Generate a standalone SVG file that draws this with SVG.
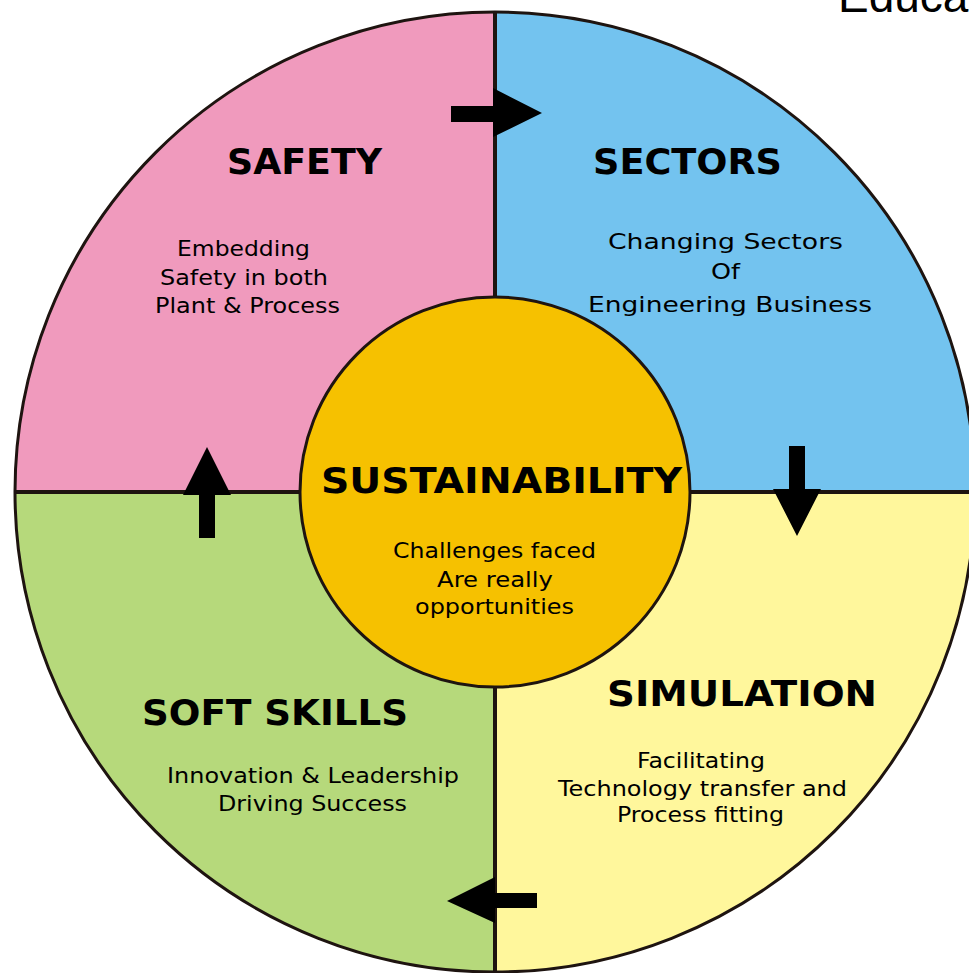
<svg xmlns="http://www.w3.org/2000/svg" width="969" height="973" viewBox="0 0 969 973">
<style>
.q{stroke:none}
.title{font-family:"DejaVu Sans","Verdana",sans-serif;font-weight:bold;font-size:35px;fill:#000;text-anchor:middle}
.body{font-family:"DejaVu Sans","Verdana",sans-serif;font-size:22px;fill:#000;text-anchor:middle}
.arrow{fill:#000}
</style>
<rect width="969" height="973" fill="#fff"/>
<text x="838" y="12" font-family="'Liberation Sans',Arial,sans-serif" font-size="46" fill="#000">Educa</text>
<g id="safety">
<path class="q" fill="#F09ABD" d="M495,492 L15,492 A480,480 0 0 1 495,12 Z"/>
<text class="title" x="304.5" y="174" textLength="155" lengthAdjust="spacingAndGlyphs">SAFETY</text>
<text class="body" x="243.5" y="256" textLength="133" lengthAdjust="spacingAndGlyphs">Embedding</text>
<text class="body" x="244" y="285" textLength="168" lengthAdjust="spacingAndGlyphs">Safety in both</text>
<text class="body" x="247.5" y="313" textLength="185" lengthAdjust="spacingAndGlyphs">Plant &amp; Process</text>
</g>
<g id="sectors">
<path class="q" fill="#73C3EF" d="M495,492 L495,12 A480,480 0 0 1 975,492 Z"/>
<text class="title" x="687.5" y="174" textLength="189" lengthAdjust="spacingAndGlyphs">SECTORS</text>
<text class="body" x="725.5" y="249" textLength="235" lengthAdjust="spacingAndGlyphs">Changing Sectors</text>
<text class="body" x="725.5" y="279" textLength="29" lengthAdjust="spacingAndGlyphs">Of</text>
<text class="body" x="730" y="312" textLength="284" lengthAdjust="spacingAndGlyphs">Engineering Business</text>
</g>
<g id="simulation">
<path class="q" fill="#FFF79C" d="M495,492 L975,492 A480,480 0 0 1 495,972 Z"/>
<text class="title" x="742" y="706" textLength="270" lengthAdjust="spacingAndGlyphs">SIMULATION</text>
<text class="body" x="701" y="768" textLength="128" lengthAdjust="spacingAndGlyphs">Facilitating</text>
<text class="body" x="702.5" y="796" textLength="289" lengthAdjust="spacingAndGlyphs">Technology transfer and</text>
<text class="body" x="700.5" y="822" textLength="167" lengthAdjust="spacingAndGlyphs">Process fitting</text>
</g>
<g id="soft-skills">
<path class="q" fill="#B6D97B" d="M495,492 L495,972 A480,480 0 0 1 15,492 Z"/>
<text class="title" x="275" y="725" textLength="266" lengthAdjust="spacingAndGlyphs">SOFT SKILLS</text>
<text class="body" x="313" y="783" textLength="292" lengthAdjust="spacingAndGlyphs">Innovation &amp; Leadership</text>
<text class="body" x="312.5" y="811" textLength="189" lengthAdjust="spacingAndGlyphs">Driving Success</text>
</g>
<g id="dividers" stroke="#1E1410" fill="none">
<line x1="15" y1="492" x2="975" y2="492" stroke-width="4"/>
<line x1="495" y1="12" x2="495" y2="972" stroke-width="4"/>
<circle cx="495" cy="492" r="480" stroke-width="3"/>
</g>
<g id="sustainability">
<circle cx="495" cy="492" r="195" fill="#F6C100" stroke="#1E1410" stroke-width="3"/>
<text class="title" x="501.5" y="493" textLength="361" lengthAdjust="spacingAndGlyphs">SUSTAINABILITY</text>
<text class="body" x="494.5" y="558" textLength="203" lengthAdjust="spacingAndGlyphs">Challenges faced</text>
<text class="body" x="495" y="587" textLength="116" lengthAdjust="spacingAndGlyphs">Are really</text>
<text class="body" x="494.5" y="614" textLength="159" lengthAdjust="spacingAndGlyphs">opportunities</text>
</g>
<g id="connectors">
<polygon class="arrow" points="451,106 493,106 493,88 542,113 493,137 493,122 451,122"/>
<polygon class="arrow" points="789,446 805,446 805,489 821,489 797,536 773,489 789,489"/>
<polygon class="arrow" points="537,893 495,893 495,877 447,901 495,923 495,908 537,908"/>
<polygon class="arrow" points="199,538 199,495 183,495 207,447 231,495 215,495 215,538"/>
</g>
</svg>
